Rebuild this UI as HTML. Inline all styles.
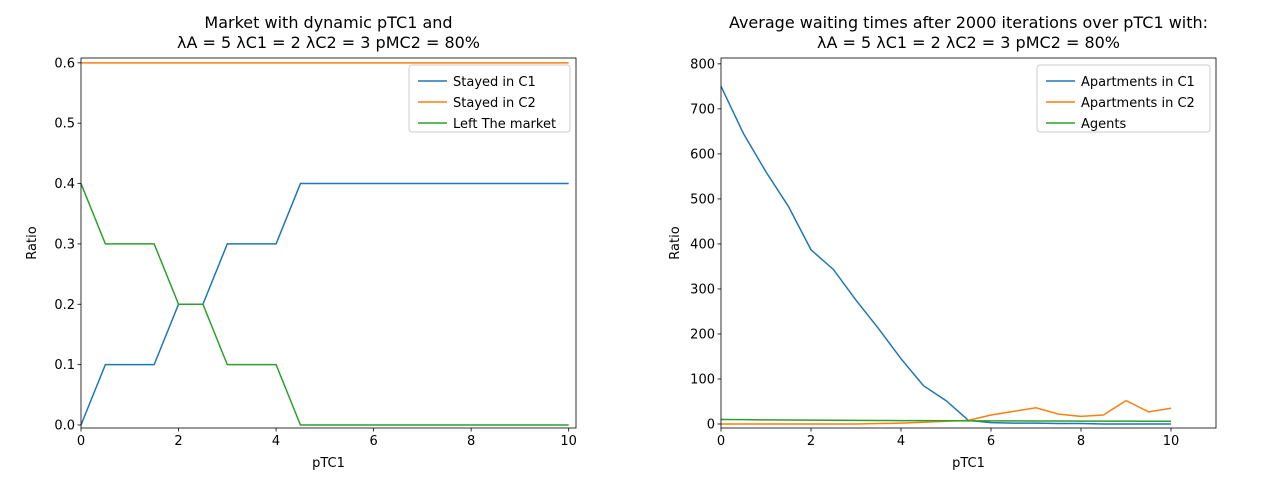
<!DOCTYPE html>
<html><head><meta charset="utf-8"><style>
body{margin:0;background:#fff;font-family:"Liberation Sans","DejaVu Sans",sans-serif;}
svg text{font-family:"DejaVu Sans","Liberation Sans",sans-serif;}
</style></head><body>
<svg id="svg" width="1280" height="480" xmlns="http://www.w3.org/2000/svg"></svg>
<script>
const xsL=[0,0.5,1,1.5,2,2.5,3,3.5,4,4.5,5,5.5,6,6.5,7,7.5,8,8.5,9,9.5,10];
const stayedC1=[0,0.1,0.1,0.1,0.2,0.2,0.3,0.3,0.3,0.4,0.4,0.4,0.4,0.4,0.4,0.4,0.4,0.4,0.4,0.4,0.4];
const stayedC2=[0.6,0.6,0.6,0.6,0.6,0.6,0.6,0.6,0.6,0.6,0.6,0.6,0.6,0.6,0.6,0.6,0.6,0.6,0.6,0.6,0.6];
const leftMarket=[0.4,0.3,0.3,0.3,0.2,0.2,0.1,0.1,0.1,0,0,0,0,0,0,0,0,0,0,0,0];
const xsR=[0,0.5,1,1.5,2,2.5,3,3.5,4,4.5,5,5.5,6,6.5,7,7.5,8,8.5,9,9.5,10];
const aptC1=[750,645,560,483,387,343,275,212,145,85,52,8,3,2,2,1,1,0,0,0,0];
const aptC2=[0,0,0,0,0,0,0,1,2,4,6,8,20,28,36,22,17,20,52,27,35];
const agents=[10,9.6,9.2,8.8,8.5,8.2,8,7.8,7.6,7.4,7.2,7,6.9,6.8,6.7,6.6,6.5,6.4,6.3,6.2,6.1];
const xTicksL=[0,2,4,6,8,10], yTicksL=[0,0.1,0.2,0.3,0.4,0.5,0.6];
const xTicksR=[0,2,4,6,8,10], yTicksR=[0,100,200,300,400,500,600,700,800];
const colors=['#1f77b4','#ff7f0e','#2ca02c'];
const NS='http://www.w3.org/2000/svg', svg=document.getElementById('svg');
function mk(t,a,p){const e=document.createElementNS(NS,t);for(const k in a)e.setAttribute(k,a[k]);(p||svg).appendChild(e);return e;}
function panel(o){
 const g=mk('g',{});
 
 
 const X=v=>o.x0+(v-o.xmin)/(o.xmax-o.xmin)*(o.x1-o.x0);
 const Y=v=>o.y1-(v-o.ymin)/(o.ymax-o.ymin)*(o.y1-o.y0);
 o.series.forEach((s,i)=>{
  const l=mk('polyline',{points:o.xs.map((x,j)=>X(x)+','+Y(s.v[j])).join(' '),fill:'none',stroke:colors[i],'stroke-width':1.5},g);
  
  
 });
 const fr=mk('rect',{x:o.x0,y:o.y0,width:o.x1-o.x0,height:o.y1-o.y0,fill:'none',stroke:'#000','stroke-width':0.8},g);
 
 
 o.xt.forEach(t=>{const x=X(t);mk('line',{x1:x,x2:x,y1:o.y1,y2:o.y1+3.5,stroke:'#000','stroke-width':0.8},g);
  const tx=mk('text',{x:x,y:o.y1+17,'font-size':13,'text-anchor':'middle'},g);tx.textContent=t;
  
  });
 o.yt.forEach(t=>{const y=Y(t);mk('line',{x1:o.x0-3.5,x2:o.x0,y1:y,y2:y,stroke:'#000','stroke-width':0.8},g);
  const tx=mk('text',{x:o.x0-6,y:y+4.5,'font-size':13,'text-anchor':'end'},g);tx.textContent=o.fmt(t);
  
  });
 const xl=mk('text',{x:(o.x0+o.x1)/2,y:467,'font-size':13,'text-anchor':'middle'},g);xl.textContent='pTC1';
 
 
 const yl=mk('text',{x:0,y:0,'font-size':13,'text-anchor':'middle',transform:`translate(${o.x0-o.ylOff},${(o.y0+o.y1)/2}) rotate(-90)`},g);yl.textContent='Ratio';
 
 
 o.title.forEach((t,i)=>{const tt=mk('text',{x:(o.x0+o.x1)/2,y:28+i*20,'font-size':16,'text-anchor':'middle'},g);tt.textContent=t;
  
  });
 const lg=mk('g',{},g);
 
 
 mk('rect',{x:o.lx,y:65,width:o.x1-6-o.lx,height:67,rx:3,fill:'#fff',stroke:'#ccc','fill-opacity':0.8},lg);
 o.series.forEach((s,i)=>{const y=81+i*21;
  mk('line',{x1:o.lx+9,x2:o.lx+38,y1:y,y2:y,stroke:colors[i],'stroke-width':1.5},lg);
  const t=mk('text',{x:o.lx+44,y:y+5,'font-size':13},lg);t.textContent=s.label;
  
  });
}
panel({name:'left-chart',x0:81,x1:576,y0:58,y1:428,xmin:0,xmax:10.15,ymin:-0.005,ymax:0.608,xs:xsL,
 series:[{id:'stayed-c1',v:stayedC1,label:'Stayed in C1'},{id:'stayed-c2',v:stayedC2,label:'Stayed in C2'},{id:'left-market',v:leftMarket,label:'Left The market'}],
 xt:xTicksL,yt:yTicksL,fmt:t=>t.toFixed(1),ylOff:45,lx:409,
 title:['Market with dynamic pTC1 and','λA = 5 λC1 = 2 λC2 = 3 pMC2 = 80%']});
panel({name:'right-chart',x0:721,x1:1216,y0:58,y1:428,xmin:0,xmax:11,ymin:-8.9,ymax:813,xs:xsR,
 series:[{id:'apartments-c1',v:aptC1,label:'Apartments in C1'},{id:'apartments-c2',v:aptC2,label:'Apartments in C2'},{id:'agents',v:agents,label:'Agents'}],
 xt:xTicksR,yt:yTicksR,fmt:t=>String(t),ylOff:42,lx:1037,
 title:['Average waiting times after 2000 iterations over pTC1 with:','λA = 5 λC1 = 2 λC2 = 3 pMC2 = 80%']});
</script>
</body></html>
